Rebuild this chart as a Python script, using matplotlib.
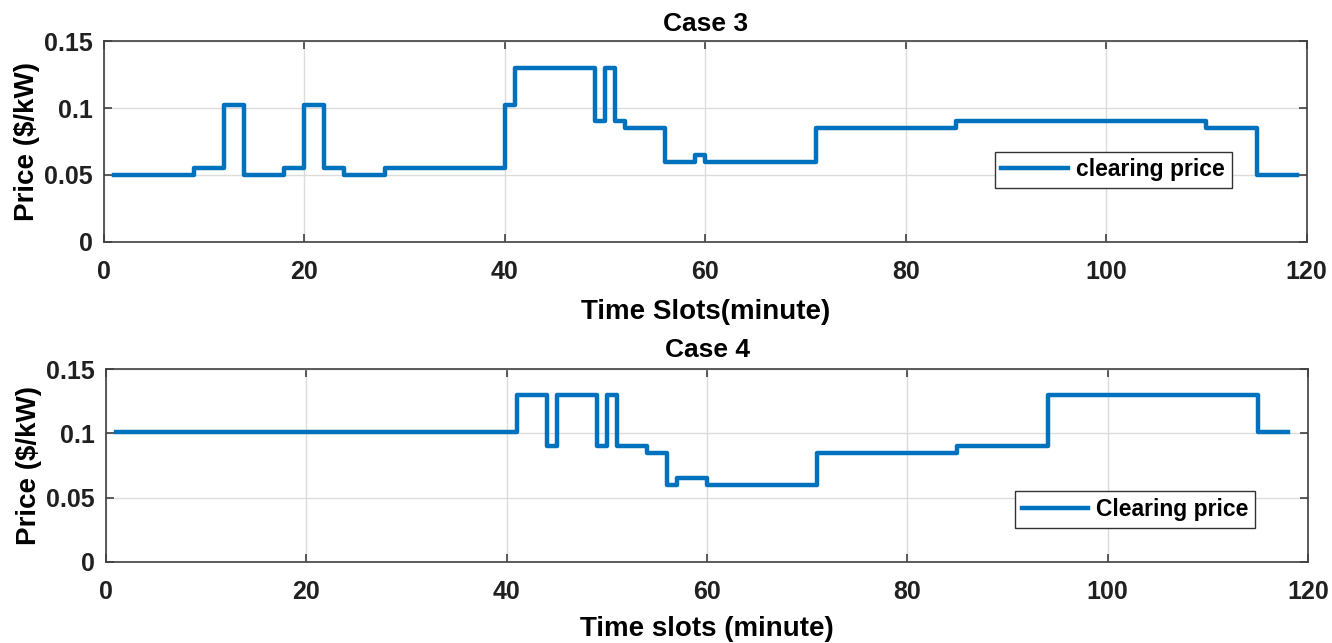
import matplotlib
matplotlib.use("Agg")
import matplotlib.pyplot as plt

plt.rcParams['font.family'] = ['Liberation Sans', 'DejaVu Sans']
plt.rcParams['font.weight'] = 'bold'

# Case 3: slot where each price level starts, and the price for that level
case3_start = [1, 9, 12, 14, 18, 20, 22, 24, 28, 40, 41, 49, 50, 51, 52,
               56, 59, 60, 71, 85, 110, 115]
case3_price = [0.05, 0.055, 0.102, 0.05, 0.055, 0.102, 0.055, 0.05, 0.055,
               0.102, 0.13, 0.09, 0.13, 0.09, 0.085, 0.06, 0.065, 0.06,
               0.085, 0.09, 0.085, 0.05]
case3_end = 119

# Case 4
case4_start = [1, 41, 44, 45, 49, 50, 51, 54, 56, 57, 60, 71, 85, 94, 115]
case4_price = [0.101, 0.13, 0.09, 0.13, 0.09, 0.13, 0.09, 0.085, 0.06,
               0.065, 0.06, 0.085, 0.09, 0.13, 0.101]
case4_end = 118

x_ticks = [0, 20, 40, 60, 80, 100, 120]
y_ticks = [0, 0.05, 0.1, 0.15]
y_ticklabels = ['0', '0.05', '0.1', '0.15']

line_color = '#0072BD'
axis_color = '#404040'

fig = plt.figure(figsize=(13.32, 6.43), dpi=100)
ax1 = fig.add_axes([0.078, 0.624, 0.903, 0.312])
ax2 = fig.add_axes([0.0796, 0.1264, 0.9024, 0.2996])


def draw_panel(ax, start, price, end, title, xlabel, legend_label, leg_xy,
               title_pad, xlabel_pad):
    xs = list(start) + [end]
    ys = list(price) + [price[-1]]
    ax.step(xs, ys, where='post', color=line_color, lw=3.2,
            label=legend_label)
    ax.set_xlim(0, 120)
    ax.set_ylim(0, 0.15)
    ax.set_xticks(x_ticks)
    ax.set_yticks(y_ticks)
    ax.set_yticklabels(y_ticklabels)
    ax.grid(True, color='#dcdcdc', lw=1.0)
    ax.set_axisbelow(True)
    ax.tick_params(direction='in', length=6, width=1.2, color=axis_color,
                   top=True, right=True, labelsize=18)
    ax.tick_params(axis='x', pad=13)
    ax.tick_params(axis='y', pad=8)
    for lab in ax.get_xticklabels() + ax.get_yticklabels():
        lab.set_fontweight('bold')
        lab.set_color('#202020')
    for sp in ax.spines.values():
        sp.set_color(axis_color)
        sp.set_linewidth(1.2)
    ax.set_title(title, fontsize=19, fontweight='bold', pad=title_pad)
    ax.set_xlabel(xlabel, fontsize=20, fontweight='bold', labelpad=xlabel_pad)
    ax.set_ylabel('Price ($/kW)', fontsize=20, fontweight='bold', labelpad=3)
    leg = ax.legend(loc='center', bbox_to_anchor=leg_xy, fancybox=False,
                    framealpha=1, edgecolor='#333333', handlelength=2.9,
                    handletextpad=0.35, borderpad=0.3,
                    prop={'size': 16.5, 'weight': 'bold'})
    leg.get_frame().set_linewidth(1.0)


draw_panel(ax1, case3_start, case3_price, case3_end, 'Case 3',
           'Time Slots(minute)', 'clearing price', (0.839, 0.358), 7, 11)
draw_panel(ax2, case4_start, case4_price, case4_end, 'Case 4',
           'Time slots (minute)', 'Clearing price', (0.856, 0.271), 9, 9)

fig.savefig('out.png', dpi=100, facecolor='white')
